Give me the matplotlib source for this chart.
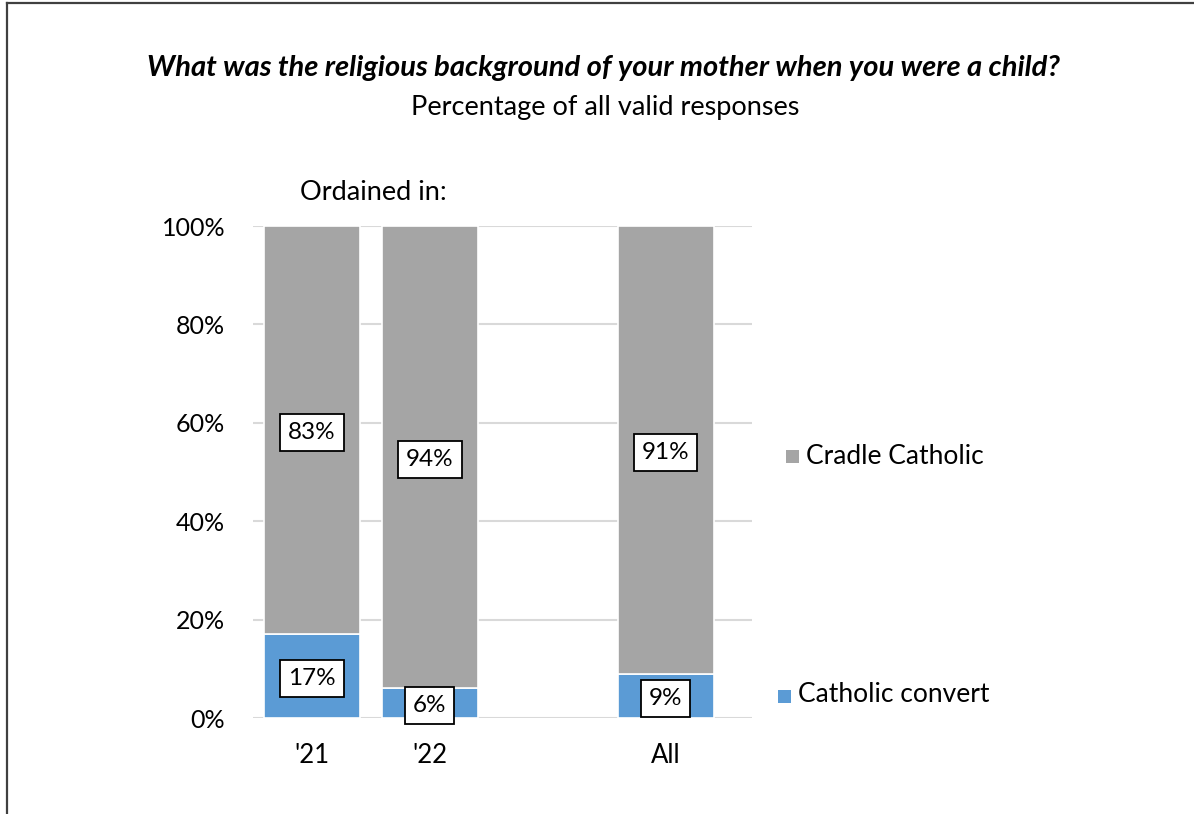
import matplotlib.pyplot as plt
from matplotlib.patches import Rectangle
from matplotlib.lines import Line2D

categories = ["'21", "'22", "All"]
positions = [0, 1, 3]
convert = [17, 6, 9]
cradle = [83, 94, 91]
series_names = ["Catholic convert", "Cradle Catholic"]
yticks = [0, 20, 40, 60, 80, 100]

plt.rcParams['font.family'] = ['Lato', 'DejaVu Sans']

W, H = 1194, 814
fig = plt.figure(figsize=(W / 100, H / 100), dpi=100)
fig.patch.set_facecolor('white')

ax = fig.add_axes([253 / W, 1 - 718 / H, (752 - 253) / W, (718 - 226) / H])

blue = '#5b9bd5'
gray = '#a5a5a5'
bw = 0.81
ax.bar(positions, convert, width=bw, color=blue, edgecolor='white', linewidth=1.2, zorder=3)
ax.bar(positions, cradle, bottom=convert, width=bw, color=gray, edgecolor='white', linewidth=1.2, zorder=3)

box = dict(boxstyle='square,pad=0.32', fc='white', ec='black', lw=1.3)
for p, c, g in zip(positions, convert, cradle):
    ax.text(p, c / 2 - 0.5, f"{c}%", ha='center', va='center', fontsize=17.5, bbox=box, zorder=5)
    ax.text(p, c + g / 2 - 0.5, f"{g}%", ha='center', va='center', fontsize=17.5, bbox=box, zorder=5)

ax.set_xlim(-0.5, 3.73)
ax.set_ylim(0, 100)
ax.set_yticks(yticks)
ax.set_yticklabels([f"{v}%" for v in yticks], fontsize=18)
ax.set_xticks(positions)
ax.set_xticklabels(categories, fontsize=18.5)
ax.tick_params(axis='both', length=0)
ax.tick_params(axis='y', pad=20)
ax.tick_params(axis='x', pad=18)
ax.yaxis.grid(True, color='#d9d9d9', lw=1.5, zorder=0)
ax.set_axisbelow(True)
for s in ax.spines.values():
    s.set_visible(False)

# Titles
fig.text(603 / W, 1 - 68 / H, "What was the religious background of your mother when you were a child?",
         ha='center', va='center', fontsize=21, fontweight='bold', fontstyle='italic')
fig.text(605 / W, 1 - 107 / H, "Percentage of all valid responses", ha='center', va='center', fontsize=19.5)
fig.text(373 / W, 1 - 193 / H, "Ordained in:", ha='center', va='center', fontsize=19.5)

# Legend
fig.patches.append(Rectangle((786 / W, 1 - 463 / H), 13 / W, 13 / H, transform=fig.transFigure,
                             facecolor=gray, edgecolor='none'))
fig.text(806 / W, 1 - 456 / H, series_names[1], ha='left', va='center', fontsize=19)
fig.patches.append(Rectangle((778 / W, 1 - 703 / H), 13 / W, 13 / H, transform=fig.transFigure,
                             facecolor=blue, edgecolor='none'))
fig.text(798 / W, 1 - 695 / H, series_names[0], ha='left', va='center', fontsize=19)

# Frame
fig.add_artist(Line2D([7 / W, 7 / W], [0, 1 - 3 / H], transform=fig.transFigure, color='#404040', lw=1.6))
fig.add_artist(Line2D([7 / W, 1], [1 - 3 / H, 1 - 3 / H], transform=fig.transFigure, color='#404040', lw=1.6))

fig.savefig('out.png', dpi=100)
